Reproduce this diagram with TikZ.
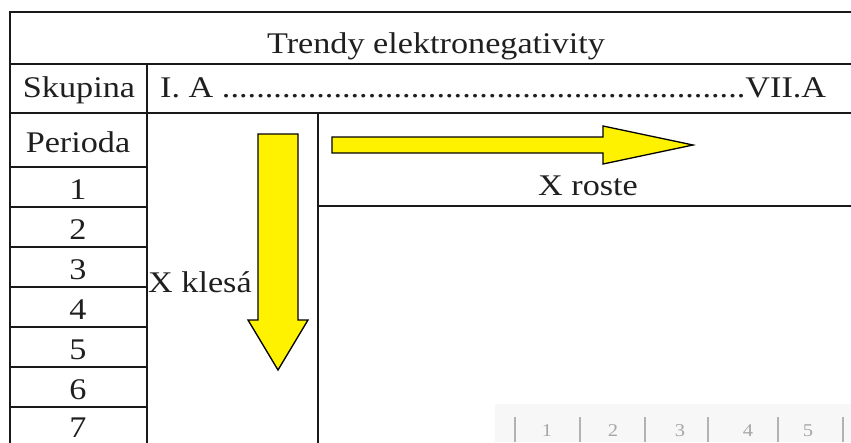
\documentclass[tikz,border=0pt]{standalone}
\usepackage{fontspec}
\setmainfont[FakeStretch=1.14]{Liberation Serif}
\begin{document}
\begin{tikzpicture}[x=1pt,y=-1pt,
  tbl/.style={line width=1.9pt, draw=black!90},
  lbl/.style={inner sep=0pt, font=\fontsize{30}{34}\selectfont, text=black!88},
  yarrow/.style={fill=yellow, draw=black, line width=1.3pt, line join=miter},
  faint/.style={inner sep=0pt, font=\fontsize{18}{20}\selectfont, text=black!35},
  faintbar/.style={draw=black!30, line width=1.6pt}]
\useasboundingbox (0,0) rectangle (851,442);
\clip (0,0) rectangle (851,442);
% faint background strip bottom right
\fill[black!3] (495,404) rectangle (851,442);
% table lines
\draw[tbl] (860,12) -- (10,12) -- (10,450);
\draw[tbl] (10,64) -- (860,64);
\draw[tbl] (10,113) -- (860,113);
\draw[tbl] (147,64) -- (147,450);
\draw[tbl] (318,113) -- (318,450);
\draw[tbl] (318,206) -- (860,206);
\foreach \yy in {167,207,247,287,327,367,407}
  \draw[tbl] (10,\yy) -- (147,\yy);
% texts
\node[lbl, anchor=base] (title) at (436,53) {Trendy elektronegativity};
\node[lbl, anchor=base] (skupina) at (79,97) {Skupina};
\node[lbl, anchor=base west] (groups) at (160,97)
  {\makebox[666pt][s]{I. A \xleaders\hbox{.}\hfill VII.A}};
\node[lbl, anchor=base] (perioda) at (78,152) {Perioda};
\node[lbl, anchor=base] (p1) at (78,199) {1};
\node[lbl, anchor=base] (p2) at (78,239) {2};
\node[lbl, anchor=base] (p3) at (78,279) {3};
\node[lbl, anchor=base] (p4) at (78,319) {4};
\node[lbl, anchor=base] (p5) at (78,359) {5};
\node[lbl, anchor=base] (p6) at (78,399) {6};
\node[lbl, anchor=base] (p7) at (78,437) {7};
\node[lbl, anchor=base west] (klesa) at (148,292) {X klesá};
\node[lbl, anchor=base] (roste) at (588,195) {X roste};
% arrows
\draw[yarrow] (332,137) -- (603,137) -- (603,126) -- (693,145) -- (603,164)
  -- (603,153) -- (332,153) -- cycle;
\draw[yarrow] (258,134) -- (298,134) -- (298,320) -- (308,320) -- (278,370)
  -- (248,320) -- (258,320) -- cycle;
% faint ruler artifact
\foreach \xx in {515,580,645,708,778,843}
  \draw[faintbar] (\xx,417) -- (\xx,442);
\node[faint, anchor=base] (r1) at (547,436) {1};
\node[faint, anchor=base] (r2) at (613,436) {2};
\node[faint, anchor=base] (r3) at (680,436) {3};
\node[faint, anchor=base] (r4) at (748,436) {4};
\node[faint, anchor=base] (r5) at (808,436) {5};
\end{tikzpicture}
\end{document}
